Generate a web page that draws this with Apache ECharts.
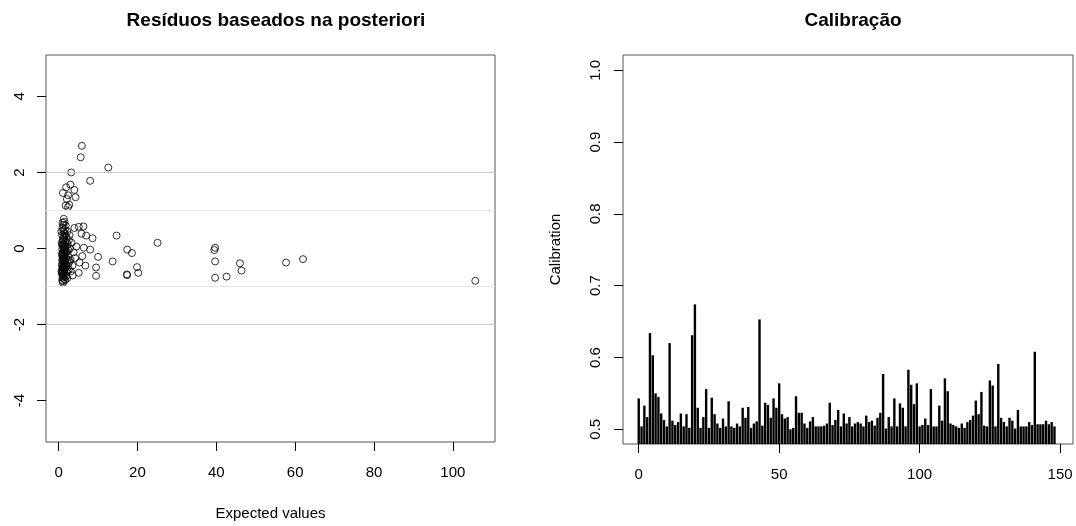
<!DOCTYPE html>
<html>
<head>
<meta charset="utf-8">
<script src="https://cdn.jsdelivr.net/npm/echarts@6/dist/echarts.min.js"></script>
<style>
  html, body { margin: 0; padding: 0; background: #fff; }
  #chart { width: 1076px; height: 526px; }
</style>
</head>
<body>
<div id="chart"></div>
<script>
// residuals vs expected values: [expected, residual]
const residuals = [
  [5.9, 2.70], [5.6, 2.40], [12.6, 2.13], [3.2, 2.00], [8.0, 1.78], [3.0, 1.68], [1.9, 1.61],
  [4.0, 1.54], [1.1, 1.46], [2.4, 1.40], [4.3, 1.35], [2.1, 1.30], [1.8, 1.13], [2.4, 1.09], [2.7, 1.15],
  [4.0, 0.54], [6.3, 0.58], [5.1, 0.57], [5.8, 0.39], [7.0, 0.34], [8.6, 0.27], [14.7, 0.34], [25.1, 0.15],
  [6.4, 0.02], [8.0, -0.03], [6.0, -0.20], [10.0, -0.22], [17.4, -0.03], [18.6, -0.12], [13.7, -0.34],
  [5.3, -0.37], [6.8, -0.45], [9.5, -0.50], [19.9, -0.49], [20.2, -0.64], [5.1, -0.64], [3.6, -0.71],
  [9.5, -0.72], [17.4, -0.70], [17.3, -0.68], [39.7, 0.02], [39.5, -0.04], [39.7, -0.34], [39.7, -0.77],
  [42.6, -0.74], [46.0, -0.39], [46.4, -0.58], [57.7, -0.37], [62.0, -0.28], [105.7, -0.85], [1.1, -0.90],
  [1.3, 0.78], [1.5, 0.70], [1.2, 0.62], [1.0, 0.55], [1.6, 0.50], [2.2, 0.45], [1.4, 0.40], [0.9, 0.35],
  [2.0, 0.30], [1.1, 0.25], [2.6, 0.22], [1.7, 0.18], [0.8, 0.15], [1.3, 0.12], [2.3, 0.10], [1.0, 0.07],
  [1.8, 0.05], [1.2, 0.02], [2.9, 0.0], [0.9, -0.02], [1.5, -0.05], [2.1, -0.08], [1.1, -0.10], [1.7, -0.13],
  [0.8, -0.15], [1.4, -0.18], [2.4, -0.20], [1.0, -0.22], [1.9, -0.25], [1.2, -0.28], [0.9, -0.30],
  [1.6, -0.33], [2.7, -0.35], [1.1, -0.38], [1.4, -0.40], [0.8, -0.43], [2.0, -0.45], [1.3, -0.48],
  [1.0, -0.50], [1.7, -0.53], [0.9, -0.56], [2.2, -0.58], [1.2, -0.60], [1.5, -0.63], [0.8, -0.66],
  [1.1, -0.70], [1.9, -0.73], [1.0, -0.77], [1.4, -0.80], [0.9, -0.84], [3.3, 0.15], [3.8, -0.10],
  [4.5, 0.05], [3.5, -0.45], [4.2, -0.25], [2.8, 0.35], [3.1, -0.60], [2.5, -0.40], [0.7, 0.45],
  [0.7, -0.60], [1.6, 0.05], [2.0, -0.62], [1.3, -0.05], [1.8, 0.60], [2.3, -0.30], [1.5, -0.25],
  [1.0, 0.68], [1.2, 0.48], [1.5, 0.32], [1.1, 0.20], [0.9, 0.10], [1.4, 0.08], [1.6, -0.02], [1.2, -0.12],
  [1.0, -0.16], [1.5, -0.20], [1.3, -0.24], [1.1, -0.32], [1.5, -0.36], [1.2, -0.42], [1.6, -0.46],
  [1.1, -0.52], [1.4, -0.56], [1.0, -0.62], [1.3, -0.67], [1.6, -0.71], [1.2, -0.74], [1.1, -0.86],
  [1.8, -0.40], [1.9, -0.10], [2.1, 0.15], [1.7, 0.38], [2.5, -0.05], [2.6, -0.55], [3.0, -0.30],
  [2.2, -0.78], [1.3, 0.28], [1.7, -0.83]
]

// calibration per observation (index 0..148)
const calibration = [
  0.543, 0.504, 0.533, 0.517, 0.634, 0.603, 0.550, 0.545, 0.522, 0.513,
  0.504, 0.620, 0.512, 0.506, 0.510, 0.522, 0.504, 0.521, 0.502, 0.631,
  0.674, 0.530, 0.502, 0.517, 0.556, 0.502, 0.544, 0.521, 0.508, 0.502,
  0.515, 0.504, 0.539, 0.504, 0.502, 0.508, 0.504, 0.530, 0.516, 0.531,
  0.502, 0.508, 0.511, 0.653, 0.505, 0.537, 0.534, 0.516, 0.543, 0.530,
  0.564, 0.521, 0.515, 0.517, 0.500, 0.502, 0.546, 0.523, 0.523, 0.508,
  0.502, 0.511, 0.517, 0.504, 0.504, 0.504, 0.505, 0.508, 0.537, 0.506,
  0.513, 0.527, 0.504, 0.522, 0.508, 0.517, 0.504, 0.508, 0.510, 0.508,
  0.504, 0.519, 0.510, 0.512, 0.505, 0.516, 0.523, 0.577, 0.501, 0.517,
  0.504, 0.543, 0.504, 0.536, 0.530, 0.504, 0.583, 0.562, 0.535, 0.564,
  0.504, 0.506, 0.515, 0.506, 0.556, 0.504, 0.504, 0.533, 0.512, 0.571,
  0.553, 0.508, 0.506, 0.504, 0.502, 0.508, 0.502, 0.510, 0.513, 0.519,
  0.540, 0.521, 0.552, 0.505, 0.504, 0.568, 0.561, 0.504, 0.591, 0.516,
  0.510, 0.504, 0.516, 0.512, 0.501, 0.527, 0.504, 0.504, 0.504, 0.510,
  0.506, 0.608, 0.507, 0.507, 0.507, 0.512, 0.507, 0.510, 0.504
]

const residualTicksX = [0, 20, 40, 60, 80, 100]
const residualTicksY = [-4, -2, 0, 2, 4]
const calibTicksX = [0, 50, 100, 150]
const calibTicksY = [0.5, 0.6, 0.7, 0.8, 0.9, 1.0]
const refLines = [
  { y: 2, color: '#c8c8c8' },
  { y: 1, color: '#e4e4e4' },
  { y: -1, color: '#e4e4e4' },
  { y: -2, color: '#c8c8c8' }
]

const font = '"Liberation Sans", Arial, sans-serif'
const labelStyle = { color: '#000', fontSize: 15, fontFamily: font }

function makeAxis(gridIndex, min, max, ticks, extra) {
  return Object.assign({
    gridIndex,
    type: 'value',
    min,
    max,
    splitLine: { show: false },
    axisLine: { show: false, onZero: false },
    axisTick: {
      show: true,
      length: 9,
      customValues: ticks,
      lineStyle: { color: '#000' }
    },
    axisLabel: Object.assign({ customValues: ticks, margin: 23 }, labelStyle)
  }, extra || {})
}

const chart = echarts.init(document.getElementById('chart'), null, { renderer: 'canvas' })

chart.setOption({
  animation: false,
  backgroundColor: '#fff',
  title: [
    {
      text: 'Resíduos baseados na posteriori',
      left: 271, top: 6, textAlign: 'center',
      textStyle: { fontSize: 19, fontWeight: 'bold', fontFamily: font, color: '#000' }
    },
    {
      text: 'Calibração',
      left: 848, top: 6, textAlign: 'center',
      textStyle: { fontSize: 19, fontWeight: 'bold', fontFamily: font, color: '#000' }
    }
  ],
  grid: [
    { left: 46, top: 55, width: 449, height: 389, show: true, borderColor: '#555', borderWidth: 1, backgroundColor: 'transparent' },
    { left: 623, top: 55, width: 450, height: 389, show: true, borderColor: '#555', borderWidth: 1, backgroundColor: 'transparent' }
  ],
  xAxis: [
    makeAxis(0, -3.2, 110.7, residualTicksX, {
      name: 'Expected values',
      nameLocation: 'middle',
      nameGap: 64,
      nameTextStyle: { color: '#000', fontSize: 15, fontFamily: font }
    }),
    makeAxis(1, -5.6, 154.6, calibTicksX)
  ],
  yAxis: [
    makeAxis(0, -5.09, 5.09, residualTicksY, {
      axisLabel: Object.assign({ customValues: residualTicksY, margin: 19, rotate: 90 }, labelStyle)
    }),
    makeAxis(1, 0.4795, 1.0213, calibTicksY, {
      name: 'Calibration',
      nameLocation: 'middle',
      nameGap: 60,
      nameRotate: 90,
      nameTextStyle: { color: '#000', fontSize: 15, fontFamily: font },
      axisLabel: Object.assign({
        customValues: calibTicksY, margin: 20, rotate: 90,
        formatter: v => v.toFixed(1)
      }, labelStyle)
    })
  ],
  series: [
    {
      type: 'scatter',
      xAxisIndex: 0,
      yAxisIndex: 0,
      symbol: 'circle',
      symbolSize: 7,
      itemStyle: { color: 'rgba(0,0,0,0)', borderColor: '#000', borderWidth: 1 },
      data: residuals,
      markLine: {
        silent: true,
        symbol: 'none',
        label: { show: false },
        data: refLines.map(r => ({ yAxis: r.y, lineStyle: { color: r.color, width: 1, type: 'solid' } }))
      },
      z: 3
    },
    {
      type: 'bar',
      xAxisIndex: 1,
      yAxisIndex: 1,
      barWidth: 2.4,
      itemStyle: { color: '#000' },
      data: calibration.map((v, i) => [i, v])
    }
  ]
})
</script>
</body>
</html>
